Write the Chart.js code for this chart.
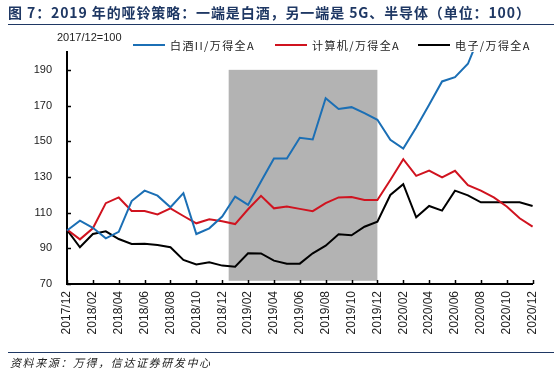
<!DOCTYPE html>
<html>
<head>
<meta charset="utf-8">
<script src="https://cdn.jsdelivr.net/npm/chart.js@4/dist/chart.umd.min.js"></script>
<style>
  html,body{margin:0;padding:0;background:#fff;}
  #wrap{position:relative;width:554px;height:376px;overflow:hidden;background:#fff;}
  #c{position:absolute;left:0;top:0;}
  .title{position:absolute;left:8px;top:2px;font:bold 14px "Noto Sans CJK SC",sans-serif;color:#1F3864;white-space:nowrap;letter-spacing:0.9px;}
  .rule{position:absolute;left:8px;right:0;height:0;border-top:1.5px solid #1F3864;}
  .note{position:absolute;left:10px;top:354px;font:italic 11px "Noto Sans CJK SC",sans-serif;color:#222;letter-spacing:1.6px;white-space:nowrap;}
  .base{position:absolute;left:57px;top:31px;font:11px "Liberation Sans",Arial,sans-serif;color:#222;white-space:nowrap;}
  .leg{position:absolute;top:38px;height:14px;display:flex;align-items:center;font:11px "Noto Sans CJK SC",sans-serif;color:#222;letter-spacing:1.4px;white-space:nowrap;}
  .leg i{display:inline-block;width:32px;height:0;border-top:2px solid;margin-right:5px;}
</style>
</head>
<body>
<div id="wrap">
  <canvas id="c" width="554" height="376"></canvas>
  <div class="title">图 7：2019 年的哑铃策略：一端是白酒，另一端是 5G、半导体（单位：100）</div>
  <div class="rule" style="top:24px"></div>
  <div class="base">2017/12=100</div>
  <div id="legend"></div>
  <div class="rule" style="top:352px"></div>
  <div class="note">资料来源：万得，信达证券研发中心</div>
</div>
<script>
// ---- data ----
const months = ['2017/12','2018/01','2018/02','2018/03','2018/04','2018/05','2018/06','2018/07','2018/08','2018/09','2018/10','2018/11',
  '2018/12','2019/01','2019/02','2019/03','2019/04','2019/05','2019/06','2019/07','2019/08','2019/09','2019/10','2019/11',
  '2019/12','2020/01','2020/02','2020/03','2020/04','2020/05','2020/06','2020/07','2020/08','2020/09','2020/10','2020/11','2020/12'];
const seriesNames = ['白酒II/万得全A','计算机/万得全A','电子/万得全A'];
const baijiu = [100,105.5,101.5,95.6,99.2,116.5,122.3,119.5,113,120.9,98,101.2,107.8,119,114.3,127.4,140.3,140.3,151.9,151,174.1,168.1,169.1,165.7,162,
  150.8,145.9,157.7,170.4,183.5,185.9,193.4,211,null,null,null,null];
const jisuanji = [100.5,95,101.2,115.3,118.5,110.9,110.9,109,112.4,108.1,104,106.3,105.2,103.6,111.9,119.4,112.4,113.4,112.1,110.8,115.3,118.5,118.8,117.1,117.1,
  128.3,139.9,130.6,133.6,129.8,133.4,125.4,122.3,118.5,113.4,106.8,102.1];
const dianzi = [100.3,90.6,98,99.5,95.2,92.4,92.6,91.9,90.6,83.5,81,82.2,80.3,79.7,87.2,87.1,83.1,81.4,81.4,87.2,91.5,97.9,97.3,102.1,104.9,
  119.9,125.9,107.4,113.7,111.1,122.3,119.7,115.8,115.8,115.8,115.8,113.7];
const yTicks = [70,90,110,130,150,170,190];
const yMin = 70, yMax = 200;
// shaded period (2019), in category index units and value units
const shadeFrom = 12.5, shadeTo = 24, shadeLow = 71.8, shadeHigh = 190;

const colors = ['#1B6FB5','#D0131F','#000000'];

// legend (HTML)
const legPos = [133, 275, 418];
const legEl = document.getElementById('legend');
seriesNames.forEach((n,i)=>{
  const d = document.createElement('div');
  d.className='leg'; d.style.left = legPos[i]+'px';
  d.innerHTML = '<i style="border-color:'+colors[i]+'"></i>'+n;
  legEl.appendChild(d);
});

const shadePlugin = {
  id:'shade',
  beforeDatasetsDraw(chart){
    const {ctx, scales:{x,y}} = chart;
    const x1 = x.getPixelForValue(shadeFrom), x2 = x.getPixelForValue(shadeTo);
    const y1 = y.getPixelForValue(shadeHigh), y2 = y.getPixelForValue(shadeLow);
    ctx.save(); ctx.fillStyle='#B3B3B3'; ctx.fillRect(x1,y1,x2-x1,y2-y1); ctx.restore();
  },
  afterDraw(chart){
    const {ctx, scales:{x,y}, chartArea:a} = chart;
    ctx.save(); ctx.strokeStyle='#000'; ctx.lineWidth=1.5;
    ctx.beginPath();
    for(let i=0;i<months.length;i+=2){
      const px = Math.round(x.getPixelForValue(i))+0.5;
      ctx.moveTo(px,a.bottom); ctx.lineTo(px,a.bottom-4);
    }
    yTicks.forEach(v=>{
      const py = Math.round(y.getPixelForValue(v))+0.5;
      ctx.moveTo(a.left,py); ctx.lineTo(a.left+4,py);
    });
    ctx.stroke(); ctx.restore();
  }
};

new Chart(document.getElementById('c'),{
  type:'line',
  data:{
    labels:months,
    datasets:[
      {label:seriesNames[0],data:baijiu,borderColor:colors[0],backgroundColor:colors[0]},
      {label:seriesNames[1],data:jisuanji,borderColor:colors[1],backgroundColor:colors[1]},
      {label:seriesNames[2],data:dianzi,borderColor:colors[2],backgroundColor:colors[2]}
    ]
  },
  options:{
    responsive:false,animation:false,devicePixelRatio:1,
    layout:{padding:{left:0,top:52,right:16,bottom:0}},
    elements:{line:{borderWidth:2,tension:0},point:{radius:0}},
    plugins:{legend:{display:false},tooltip:{enabled:false}},
    scales:{
      x:{
        offset:false,
        grid:{display:true,drawOnChartArea:false,drawTicks:false},
        border:{display:true,color:'#000',width:2},
        ticks:{autoSkip:false,minRotation:90,maxRotation:90,padding:7,color:'#222',
          font:{family:'"Liberation Sans", Arial, sans-serif',size:12},
          callback:(v,i)=> i%2===0 ? months[i] : ''},
        afterFit(s){ s.height = 92; }
      },
      y:{
        min:yMin,max:yMax,
        grid:{display:true,drawOnChartArea:false,drawTicks:false},
        border:{display:true,color:'#000',width:2},
        afterBuildTicks(s){ s.ticks = yTicks.map(v=>({value:v})); },
        ticks:{padding:15,color:'#222',font:{family:'"Liberation Sans", Arial, sans-serif',size:11}},
        afterFit(s){ s.width = 67; }
      }
    }
  },
  plugins:[shadePlugin]
});
</script>
</body>
</html>
